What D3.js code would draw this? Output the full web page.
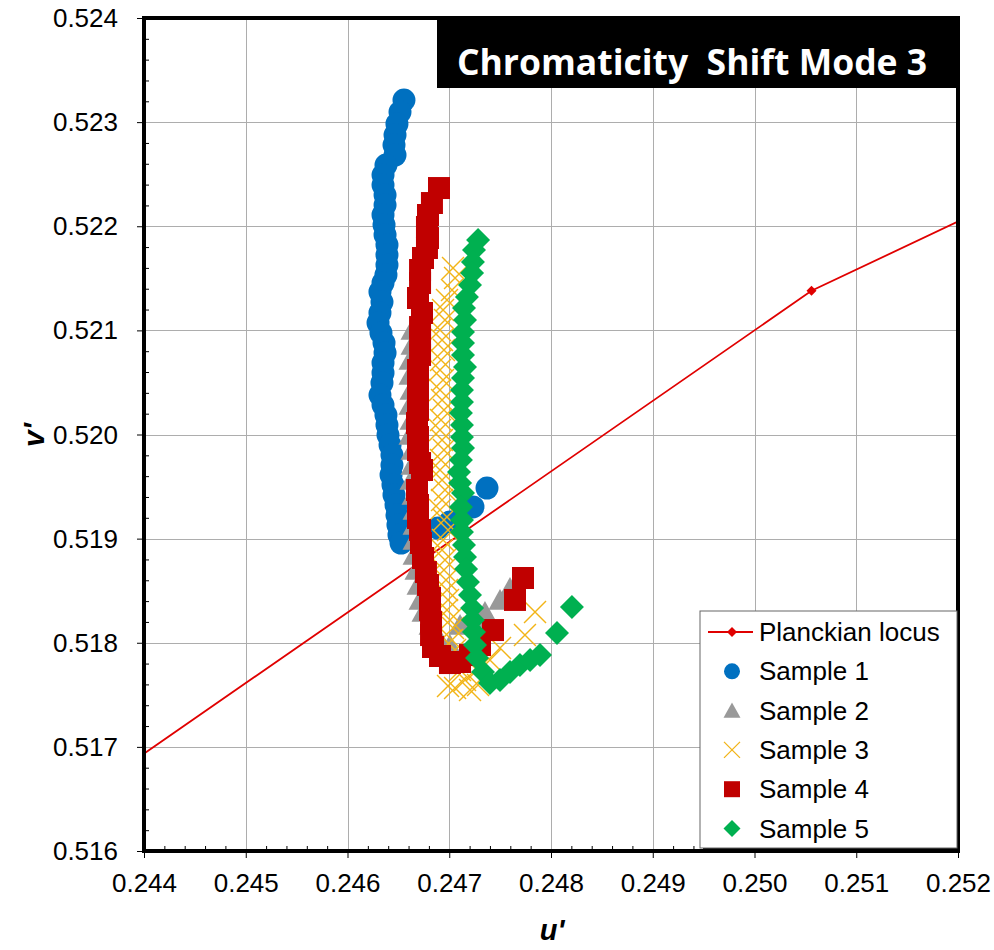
<!DOCTYPE html>
<html><head><meta charset="utf-8">
<script src="https://cdn.jsdelivr.net/npm/d3@7/dist/d3.min.js"></script>
<style>body{margin:0;background:#fff}svg{display:block}</style>
</head><body>
<svg id="chart" width="994" height="950"></svg>
<script>
// ---------- DATA ----------
const titleText = "Chromaticity  Shift Mode 3";
const xTicks = [0.244,0.245,0.246,0.247,0.248,0.249,0.250,0.251,0.252];
const xTickLabels = ["0.244","0.245","0.246","0.247","0.248","0.249","0.250","0.251","0.252"];
const yTicks = [0.516,0.517,0.518,0.519,0.520,0.521,0.522,0.523,0.524];
const yTickLabels = ["0.516","0.517","0.518","0.519","0.520","0.521","0.522","0.523","0.524"];
const seriesNames = ["Planckian locus","Sample 1","Sample 2","Sample 3","Sample 4","Sample 5"];

const planckU = [0.2420,0.25056,0.2540];
const planckV = [0.51558,0.52138,0.52297];

const u1 = [0.246555,0.246516,0.246486,0.246467,0.246457,0.246467,0.246378,0.246349,0.246349,0.246369,0.246369,0.246349,0.246359,0.246369,0.246388,0.246388,0.246388,0.246378,0.246349,0.246319,0.246339,0.246319,0.246300,0.246329,0.246359,0.246369,0.246349,0.246349,0.246339,0.246319,0.246349,0.246378,0.246388,0.246398,0.246418,0.246437,0.246437,0.246428,0.246447,0.246457,0.246477,0.246486,0.246496,0.246506,0.246526,0.246713,0.246889,0.247007,0.247086,0.247233,0.247371];
const v1 = [0.523212,0.523097,0.522982,0.522876,0.522780,0.522684,0.522588,0.522492,0.522396,0.522300,0.522204,0.522108,0.522012,0.521916,0.521820,0.521724,0.521628,0.521532,0.521455,0.521369,0.521272,0.521167,0.521071,0.520975,0.520879,0.520783,0.520687,0.520591,0.520495,0.520379,0.520283,0.520187,0.520091,0.519995,0.519899,0.519803,0.519707,0.519611,0.519515,0.519419,0.519323,0.519227,0.519131,0.519035,0.518958,0.519035,0.519102,0.519160,0.519179,0.519304,0.519486];

const u2 = [0.246634,0.246634,0.246614,0.246614,0.246624,0.246614,0.246624,0.246614,0.246634,0.246634,0.246624,0.246644,0.246654,0.246654,0.246654,0.246654,0.246673,0.246693,0.246713,0.246742,0.246811,0.246909,0.247007,0.247106,0.247253,0.247351,0.247499,0.247597];
const v2 = [0.521004,0.520860,0.520716,0.520571,0.520427,0.520283,0.520139,0.519995,0.519851,0.519707,0.519563,0.519419,0.519275,0.519131,0.518987,0.518843,0.518699,0.518555,0.518411,0.518295,0.518171,0.518026,0.517978,0.518171,0.518238,0.518295,0.518411,0.518526];

const u3 = [0.247037,0.247057,0.247027,0.246978,0.246939,0.246958,0.246909,0.246929,0.246948,0.246919,0.246909,0.246939,0.246909,0.246929,0.246948,0.246919,0.246909,0.246929,0.246948,0.246919,0.246909,0.246929,0.246958,0.246929,0.246909,0.246948,0.246988,0.246939,0.246929,0.246958,0.246948,0.246968,0.246978,0.246988,0.246978,0.247007,0.247037,0.247027,0.247057,0.247076,0.247106,0.247155,0.247057,0.246988,0.247204,0.247283,0.247273,0.247400,0.247499,0.247744,0.247843];
const v3 = [0.521599,0.521503,0.521388,0.521292,0.521196,0.521100,0.521004,0.520908,0.520812,0.520716,0.520619,0.520523,0.520427,0.520331,0.520235,0.520139,0.520043,0.519947,0.519851,0.519755,0.519659,0.519563,0.519467,0.519371,0.519275,0.519179,0.519083,0.518987,0.518891,0.518795,0.518699,0.518603,0.518507,0.518411,0.518315,0.518219,0.518142,0.518026,0.517930,0.517834,0.517738,0.517642,0.517565,0.517585,0.517546,0.517594,0.517738,0.517834,0.517950,0.518074,0.518295];

const u4 = [0.246899,0.246830,0.246791,0.246781,0.246791,0.246781,0.246742,0.246713,0.246713,0.246693,0.246732,0.246713,0.246713,0.246713,0.246693,0.246693,0.246693,0.246693,0.246683,0.246693,0.246693,0.246713,0.246732,0.246683,0.246693,0.246693,0.246713,0.246722,0.246742,0.246771,0.246791,0.246811,0.246811,0.246821,0.246821,0.246840,0.246909,0.247007,0.247106,0.247204,0.247302,0.247430,0.247646,0.247725];
const v4 = [0.522367,0.522223,0.522108,0.521993,0.521887,0.521791,0.521695,0.521580,0.521455,0.521311,0.521167,0.521032,0.520908,0.520764,0.520619,0.520495,0.520360,0.520235,0.520110,0.519976,0.519851,0.519726,0.519659,0.519467,0.519323,0.519198,0.519083,0.518958,0.518814,0.518679,0.518555,0.518430,0.518315,0.518199,0.518074,0.517959,0.517873,0.517805,0.517815,0.517882,0.517978,0.518122,0.518411,0.518622];

const u5 = [0.247283,0.247243,0.247233,0.247224,0.247204,0.247174,0.247145,0.247155,0.247135,0.247135,0.247135,0.247155,0.247135,0.247125,0.247125,0.247115,0.247125,0.247125,0.247135,0.247115,0.247096,0.247106,0.247135,0.247115,0.247125,0.247125,0.247145,0.247155,0.247165,0.247184,0.247204,0.247224,0.247233,0.247243,0.247253,0.247273,0.247332,0.247400,0.247499,0.247597,0.247695,0.247794,0.247892,0.248059,0.248206];
const v5 = [0.521868,0.521772,0.521657,0.521551,0.521436,0.521321,0.521215,0.521100,0.520984,0.520879,0.520764,0.520648,0.520543,0.520427,0.520312,0.520207,0.520091,0.519976,0.519870,0.519755,0.519640,0.519534,0.519438,0.519304,0.519179,0.519064,0.518939,0.518824,0.518708,0.518583,0.518459,0.518334,0.518219,0.518103,0.517978,0.517853,0.517719,0.517613,0.517642,0.517719,0.517786,0.517834,0.517882,0.518094,0.518343];

const colors = {planck:"#E00000", s1:"#0070C0", s2:"#999999", s3:"#F2B417", s4:"#C00000", s5:"#00B050"};

// ---------- LAYOUT ----------
const plot = {left:144, top:18, right:958, bottom:851};
const svg = d3.select("#chart");
const x = d3.scaleLinear().domain([xTicks[0], xTicks[xTicks.length-1]]).range([plot.left, plot.right]);
const y = d3.scaleLinear().domain([yTicks[0], yTicks[yTicks.length-1]]).range([plot.bottom, plot.top]);
const tickFont = "'Liberation Sans', Arial, sans-serif";

svg.append("defs").append("clipPath").attr("id","plotClip")
  .append("rect").attr("x",plot.left).attr("y",plot.top)
  .attr("width",plot.right-plot.left).attr("height",plot.bottom-plot.top);

// gridlines
const grid = svg.append("g").attr("stroke","#ADADAD").attr("stroke-width",1);
grid.selectAll(".gx").data(xTicks).join("line")
  .attr("x1",d=>Math.round(x(d))+0.5).attr("x2",d=>Math.round(x(d))+0.5)
  .attr("y1",plot.top).attr("y2",plot.bottom);
grid.selectAll(".gy").data(yTicks).join("line")
  .attr("y1",d=>Math.round(y(d))+0.5).attr("y2",d=>Math.round(y(d))+0.5)
  .attr("x1",plot.left).attr("x2",plot.right);

// minor tick positions (5 subdivisions per major step)
const minorX = d3.range(0,41).filter(i=>i%5!==0).map(i=>xTicks[0]+i*0.0002);
const minorY = d3.range(0,41).filter(i=>i%5!==0).map(i=>yTicks[0]+i*0.0002);

// axes
const xAxis = svg.append("g").attr("transform",`translate(0,${plot.bottom})`)
  .call(d3.axisBottom(x).tickValues(xTicks).tickFormat((d,i)=>xTickLabels[i]).tickSize(7).tickSizeOuter(0));
xAxis.select(".domain").remove();
xAxis.selectAll("text").attr("y",41).attr("dy",0).style("font-family",tickFont).style("font-size","26px").attr("fill","#000");
xAxis.selectAll("line").attr("stroke","#000");
const xMinor = svg.append("g").attr("transform",`translate(0,${plot.bottom})`)
  .call(d3.axisBottom(x).tickValues(minorX).tickFormat("").tickSize(-5).tickSizeOuter(0));
xMinor.select(".domain").remove();

const yAxis = svg.append("g").attr("transform",`translate(${plot.left},0)`)
  .call(d3.axisLeft(y).tickValues(yTicks).tickFormat((d,i)=>yTickLabels[i]).tickSize(7).tickSizeOuter(0));
yAxis.select(".domain").remove();
yAxis.selectAll("text").attr("x",-26).attr("dy","0.33em").style("font-family",tickFont).style("font-size","26px").attr("fill","#000");
const yMinor = svg.append("g").attr("transform",`translate(${plot.left},0)`)
  .call(d3.axisLeft(y).tickValues(minorY).tickFormat("").tickSize(-5).tickSizeOuter(0));
yMinor.select(".domain").remove();

// Planckian locus
const dataG = svg.append("g").attr("clip-path","url(#plotClip)");
const planck = planckU.map((u,i)=>({u, v:planckV[i]}));
dataG.append("path").datum(planck)
  .attr("d", d3.line().x(d=>x(d.u)).y(d=>y(d.v)))
  .attr("fill","none").attr("stroke",colors.planck).attr("stroke-width",1.8);
const diamond = s => `M0,${-s}L${s},0L0,${s}L${-s},0Z`;
dataG.selectAll(".pm").data(planck).join("path")
  .attr("transform",d=>`translate(${x(d.u)},${y(d.v)})`)
  .attr("d",diamond(5)).attr("fill",colors.planck);

// marker shapes
const shapes = {
  circle: s => `M${s},0A${s},${s} 0 1,1 ${-s},0A${s},${s} 0 1,1 ${s},0Z`,
  triangle: s => `M0,${-s*0.95}L${s},${s*0.85}L${-s},${s*0.85}Z`,
  cross: s => `M${-s},${-s}L${s},${s}M${-s},${s}L${s},${-s}`,
  square: s => `M${-s},${-s}H${s}V${s}H${-s}Z`,
  diamond: s => diamond(s)
};
const series = [
  {u:u1, v:v1, shape:"circle", size:11.5, color:colors.s1},
  {u:u2, v:v2, shape:"triangle", size:11.5, color:colors.s2},
  {u:u3, v:v3, shape:"cross", size:11, color:colors.s3, line:true},
  {u:u4, v:v4, shape:"square", size:11, color:colors.s4},
  {u:u5, v:v5, shape:"diamond", size:12, color:colors.s5}
];
series.forEach(s=>{
  const pts = s.u.map((u,i)=>({u, v:s.v[i]}));
  const g = dataG.append("g");
  const p = g.selectAll("path").data(pts).join("path")
    .attr("transform",d=>`translate(${x(d.u)},${y(d.v)})`)
    .attr("d",shapes[s.shape](s.size));
  if (s.line) p.attr("fill","none").attr("stroke",s.color).attr("stroke-width",1.4);
  else p.attr("fill",s.color);
});

// plot frame
svg.append("rect").attr("x",plot.left).attr("y",plot.top)
  .attr("width",plot.right-plot.left).attr("height",plot.bottom-plot.top)
  .attr("fill","none").attr("stroke","#000").attr("stroke-width",4);

// title box
svg.append("rect").attr("x",437).attr("y",16).attr("width",plot.right+1-437).attr("height",72).attr("fill","#000");
const title = svg.append("text").attr("x",692).attr("y",75).attr("text-anchor","middle")
  .style("font-family","'Open Sans', sans-serif").style("font-weight","bold").style("font-size","36px")
  .style("white-space","pre").attr("xml:space","preserve").attr("fill","#fff").text(titleText);
const tl = title.node().getComputedTextLength();
title.style("font-size", (36*470/tl).toFixed(1)+"px");

// axis titles
svg.append("text").attr("x",552).attr("y",940).attr("text-anchor","middle")
  .style("font-family",tickFont).style("font-weight","bold").style("font-style","italic").style("font-size","29px")
  .text("u'");
svg.append("text").attr("transform","translate(44,435) rotate(-90)").attr("text-anchor","middle")
  .style("font-family",tickFont).style("font-weight","bold").style("font-style","italic").style("font-size","30px")
  .text("v'");

// legend
const lg = svg.append("g");
const L = {x:700, y:611, w:257, h:237};
lg.append("rect").attr("x",L.x+3).attr("y",L.y+3).attr("width",L.w).attr("height",L.h).attr("fill","#000");
lg.append("rect").attr("x",L.x).attr("y",L.y).attr("width",L.w).attr("height",L.h).attr("fill","#fff").attr("stroke","#666").attr("stroke-width",1);
const legendShapes = [null,"circle","triangle","cross","square","diamond"];
const legendColors = [colors.planck,colors.s1,colors.s2,colors.s3,colors.s4,colors.s5];
const legendSizes = [5,8,8.5,8,8,8.5];
seriesNames.forEach((name,i)=>{
  const cy = L.y + 21 + i*39.3;
  const mx = 732;
  if (i===0) {
    lg.append("line").attr("x1",708).attr("x2",753).attr("y1",cy).attr("y2",cy).attr("stroke",colors.planck).attr("stroke-width",1.8);
    lg.append("path").attr("transform",`translate(${mx},${cy})`).attr("d",diamond(5)).attr("fill",colors.planck);
  } else {
    const p = lg.append("path").attr("transform",`translate(${mx},${cy})`).attr("d",shapes[legendShapes[i]](legendSizes[i]));
    if (legendShapes[i]==="cross") p.attr("fill","none").attr("stroke",legendColors[i]).attr("stroke-width",1.3);
    else p.attr("fill",legendColors[i]);
  }
  lg.append("text").attr("x",759).attr("y",cy).attr("dy","0.35em")
    .style("font-family",tickFont).style("font-size","26px").attr("fill","#000").text(name);
});
</script>
</body></html>
